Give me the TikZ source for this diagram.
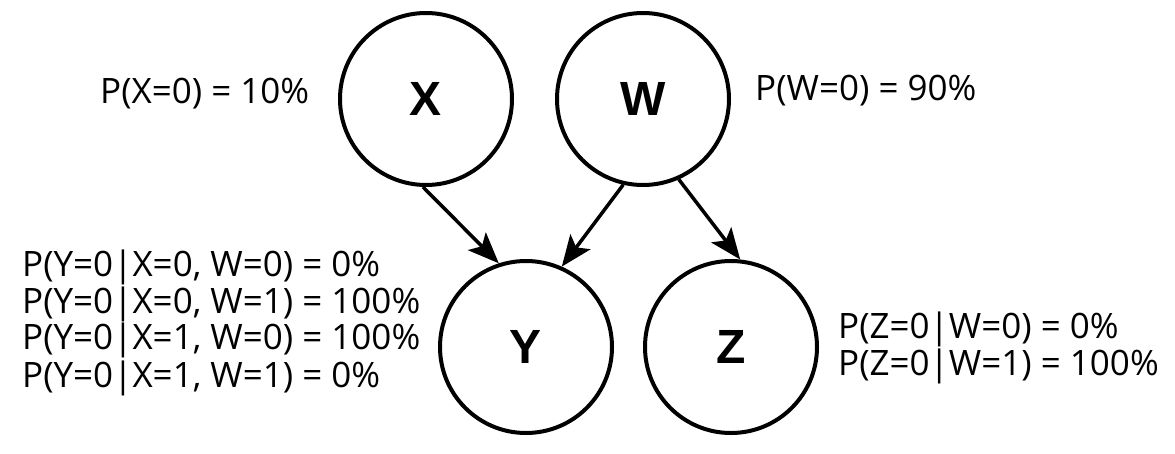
\documentclass[tikz,border=0pt]{standalone}
\usepackage{fontspec}
\setmainfont{Open Sans}
\newfontfamily\labfont{Liberation Sans}
\usetikzlibrary{arrows.meta}
\begin{document}
\begin{tikzpicture}[x=1pt,y=-1pt,
  var/.style={circle,draw=black,line width=4pt,minimum size=172pt,inner sep=0pt,
    font=\labfont\bfseries\fontsize{48}{48}\selectfont},
  prob/.style={inner sep=0pt,anchor=base west,font=\fontsize{35}{37}\selectfont},
  edge/.style={line width=3.5pt,-{Stealth[length=31pt,width=25pt,inset=7pt]}}]
\useasboundingbox (0,0) rectangle (1175,453);
\node[var] (X) at (426,99) {X};
\node[var] (W) at (643,99) {W};
\node[var] (Y) at (526,347) {Y};
\node[var] (Z) at (731,347) {Z};
\draw[edge] (X.-92) -- (Y.108);
\draw[edge] (W.-103.4) -- (Y.66.7);
\draw[edge] (W.-66) -- (Z.84.4);
\node[prob] (px) at (100,103) {P(X=0) = 10\%};
\node[prob] (pw) at (755,100) {P(W=0) = 90\%};
\node[prob] (y1) at (22,276) {P(Y=0|X=0, W=0) = 0\%};
\node[prob] (y2) at (22,313) {P(Y=0|X=0, W=1) = 100\%};
\node[prob] (y3) at (22,349) {P(Y=0|X=1, W=0) = 100\%};
\node[prob] (y4) at (22,387) {P(Y=0|X=1, W=1) = 0\%};
\node[prob] (z1) at (838,338) {P(Z=0|W=0) = 0\%};
\node[prob] (z2) at (838,375) {P(Z=0|W=1) = 100\%};
\end{tikzpicture}
\end{document}
